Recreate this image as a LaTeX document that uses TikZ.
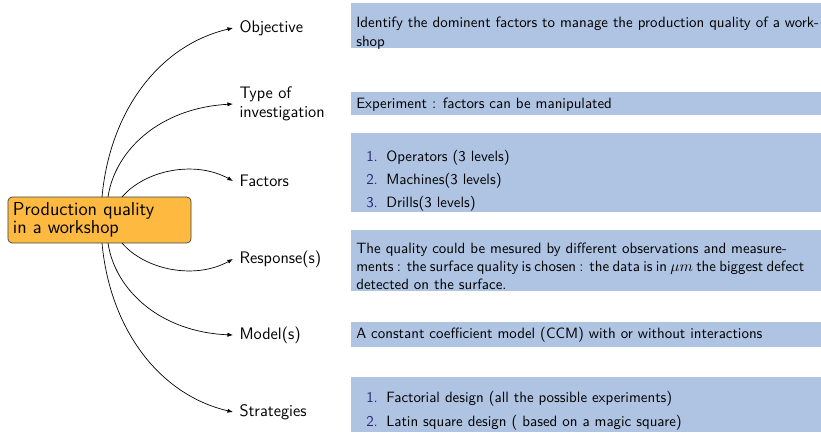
\documentclass[tikz,border=0pt]{standalone}
\usetikzlibrary{arrows.meta}
\renewcommand{\familydefault}{\sfdefault}
\definecolor{boxblue}{RGB}{175,196,227}
\definecolor{orangefill}{RGB}{253,185,64}
\definecolor{enumblue}{RGB}{38,38,115}
\begin{document}
\begin{tikzpicture}[x=0.72pt,y=-0.72pt,
  lbl/.style={anchor=west,inner xsep=4.5pt,inner ysep=0pt,align=left,font=\fontsize{12}{13.7}\selectfont},
  boxfill/.style={fill=boxblue,draw=none},
  boxtext/.style={anchor=base west,inner sep=0pt,font=\fontsize{10.75}{13.2}\selectfont},
  conn/.style={draw=black,line width=0.5pt,-{Latex[length=4pt,width=3pt]}},
  num/.style={text=enumblue}]
\useasboundingbox (0,0) rectangle (821,432);
% central node
\node[draw=black!75,fill=orangefill,rounded corners=3pt,line width=0.5pt,
  minimum width=131.8pt,minimum height=33.1pt,text width=124.6pt,inner xsep=3.6pt,
  align=left,font=\fontsize{13.5}{11.8}\selectfont] (c) at (99.5,220)
  {Production quality\\in a workshop};
% labels
\node[lbl] (obj) at (233,28) {Objective};
\node[lbl] (typ) at (233,104) {Type of\\investigation};
\node[lbl] (fac) at (233,181) {Factors};
\node[lbl] (res) at (233,259) {Response(s)};
\node[lbl] (mod) at (233,335) {Model(s)};
\node[lbl] (str) at (233,412) {Strategies};
% start points on the central node
\coordinate (s1) at (102,197);
\coordinate (s2) at (108,197);
\coordinate (s3) at (122,197);
\coordinate (s4) at (122,243);
\coordinate (s5) at (108,243);
\coordinate (s6) at (102,243);
% connectors
\draw[conn] (s1) .. controls (110,110) and (160,45) .. (obj.west);
\draw[conn] (s2) .. controls (115,150) and (160,108) .. (typ.west);
\draw[conn] (s3) .. controls (145,170) and (195,160) .. (fac.west);
\draw[conn] (s4) .. controls (145,270) and (195,280) .. (res.west);
\draw[conn] (s5) .. controls (115,290) and (160,332) .. (mod.west);
\draw[conn] (s6) .. controls (110,330) and (160,395) .. (str.west);
% blue boxes
\path[boxfill] (351,3) rectangle (821,48);
\path[boxfill] (351,92) rectangle (821,115);
\path[boxfill] (351,133) rectangle (821,212);
\path[boxfill] (351,230) rectangle (821,291);
\path[boxfill] (351,322) rectangle (821,347);
\path[boxfill] (351,377) rectangle (821,432);
% box texts
\node[boxtext] (t1a) at (356,27) {Identify the dominent factors to manage the production quality of a work-};
\node[boxtext] (t1b) at (356,46) {shop};
\node[boxtext] (t2) at (356,108) {Experiment : factors can be manipulated};
\node[boxtext,num] (n3a) at (366,161) {1.};
\node[boxtext] (t3a) at (386,161) {Operators (3 levels)};
\node[boxtext,num] (n3b) at (366,184) {2.};
\node[boxtext] (t3b) at (386,184) {Machines(3 levels)};
\node[boxtext,num] (n3c) at (366,207) {3.};
\node[boxtext] (t3c) at (386,207) {Drills(3 levels)};
\node[boxtext] (t4a) at (356,253) {The quality could be mesured by different observations and measure-};
\node[boxtext] (t4b) at (356,271) {\makebox[318pt][s]{ments : the surface quality is chosen : the data is in $\mu m$ the biggest defect}};
\node[boxtext] (t4c) at (356,289) {detected on the surface.};
\node[boxtext] (t5) at (356,338) {A constant coefficient model (CCM) with or without interactions};
\node[boxtext,num] (n6a) at (366,402) {1.};
\node[boxtext] (t6a) at (386,402) {Factorial design (all the possible experiments)};
\node[boxtext,num] (n6b) at (366,426) {2.};
\node[boxtext] (t6b) at (386,426) {Latin square design ( based on a magic square)};
\end{tikzpicture}
\end{document}
